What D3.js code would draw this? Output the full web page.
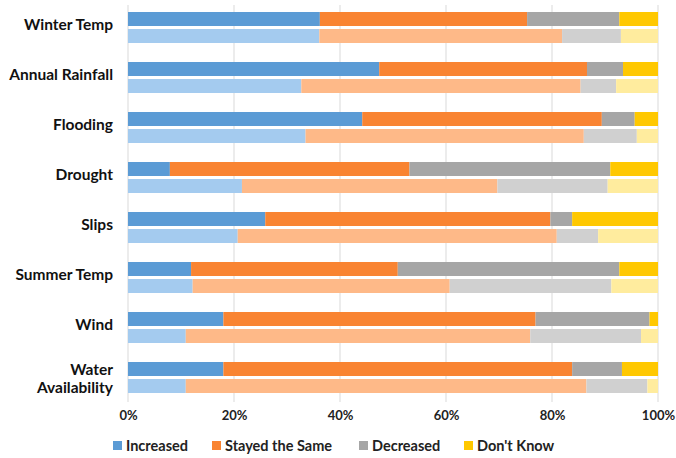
<!DOCTYPE html>
<html><head><meta charset="utf-8">
<script src="https://cdn.jsdelivr.net/npm/d3@7"></script>
<style>body{margin:0;background:#fff}</style>
</head><body>
<svg id="c" width="676" height="458"></svg>
<script>
const categories = ["Winter Temp","Annual Rainfall","Flooding","Drought","Slips","Summer Temp","Wind","Water Availability"];
const seriesNames = ["Increased","Stayed the Same","Decreased","Don't Know"];
// first (dark) bar of each pair
const increasedA = [36.2,47.4,44.2,7.9,25.9,11.9,18.0,18.0];
const sameA      = [39.1,39.2,45.2,45.2,53.8,39.0,58.9,65.8];
const decreasedA = [17.4,6.8,6.2,37.9,4.1,41.8,21.5,9.4];
const dontKnowA  = [7.3,6.6,4.4,9.0,16.2,7.3,1.6,6.8];
// second (light) bar of each pair
const increasedB = [36.1,32.7,33.5,21.5,20.7,12.2,10.9,10.9];
const sameB      = [45.8,52.7,52.5,48.2,60.2,48.5,65.0,75.6];
const decreasedB = [11.1,6.7,10.0,20.8,7.8,30.5,20.9,11.5];
const dontKnowB  = [7.0,7.9,4.0,9.5,11.3,8.8,3.2,2.0];
const tickValues = [0,20,40,60,80,100];

const darkColors  = ["#5B9BD5","#F98432","#A6A6A6","#FFC800"];
const lightColors = ["#A4CBEF","#FEB988","#D0D0D0","#FFEC9E"];

const svg = d3.select("#c");
const x = d3.scaleLinear().domain([0,100]).range([128,658]);
const y = d3.scaleBand().domain(categories).range([5,405]).paddingInner(0).paddingOuter(0);

// gridlines
svg.append("g").selectAll("line").data(tickValues).join("line")
  .attr("x1",d=>x(d)).attr("x2",d=>x(d)).attr("y1",5).attr("y2",402)
  .attr("stroke","#D9D9D9").attr("stroke-width",1);

function stackRows(arrs){
  return categories.map((c,i)=>{
    let acc=0;
    return arrs.map((a,k)=>{const s=acc; acc+=a[i]; return {cat:c,k,x0:s,x1:acc};});
  }).flat();
}
const rowsA = stackRows([increasedA,sameA,decreasedA,dontKnowA]);
const rowsB = stackRows([increasedB,sameB,decreasedB,dontKnowB]);
const barH = 14;

svg.append("g").selectAll("rect").data(rowsA).join("rect")
  .attr("x",d=>x(d.x0)).attr("width",d=>x(d.x1)-x(d.x0))
  .attr("y",d=>y(d.cat)+7).attr("height",barH)
  .attr("fill",d=>darkColors[d.k]);
svg.append("g").selectAll("rect").data(rowsB).join("rect")
  .attr("x",d=>x(d.x0)).attr("width",d=>x(d.x1)-x(d.x0))
  .attr("y",d=>y(d.cat)+24).attr("height",barH)
  .attr("fill",d=>lightColors[d.k]);

// category labels
const font = "Lato, 'Open Sans', sans-serif";
const lab = svg.append("g").attr("font-family",font).attr("font-weight","bold").attr("font-size",15.5).attr("fill","#111");
categories.forEach(c=>{
  const cy = y(c)+22.5;
  if(c==="Water Availability"){
    lab.append("text").attr("x",113).attr("y",cy-3).attr("text-anchor","end").text("Water");
    lab.append("text").attr("x",113).attr("y",cy+15).attr("text-anchor","end").text("Availability");
  } else {
    lab.append("text").attr("x",113).attr("y",cy+2.5).attr("text-anchor","end").text(c);
  }
});

// x axis labels
const ax = d3.axisBottom(x).tickValues(tickValues).tickFormat(d=>d+"%").tickSize(0);
const axg = svg.append("g").attr("transform","translate(0,405)").call(ax);
axg.select(".domain").remove();
axg.selectAll("text").attr("font-family",font).attr("font-weight","bold").attr("font-size",13).attr("fill","#222").attr("dy","0.95em");

// legend
const legX = [113,212,359,464];
const lg = svg.append("g").attr("font-family",font).attr("font-weight","bold").attr("font-size",14.5).attr("fill","#222");
seriesNames.forEach((s,i)=>{
  lg.append("rect").attr("x",legX[i]).attr("y",441).attr("width",9).attr("height",9).attr("fill",darkColors[i]);
  lg.append("text").attr("x",legX[i]+13).attr("y",451).text(s);
});
</script>
</body></html>
